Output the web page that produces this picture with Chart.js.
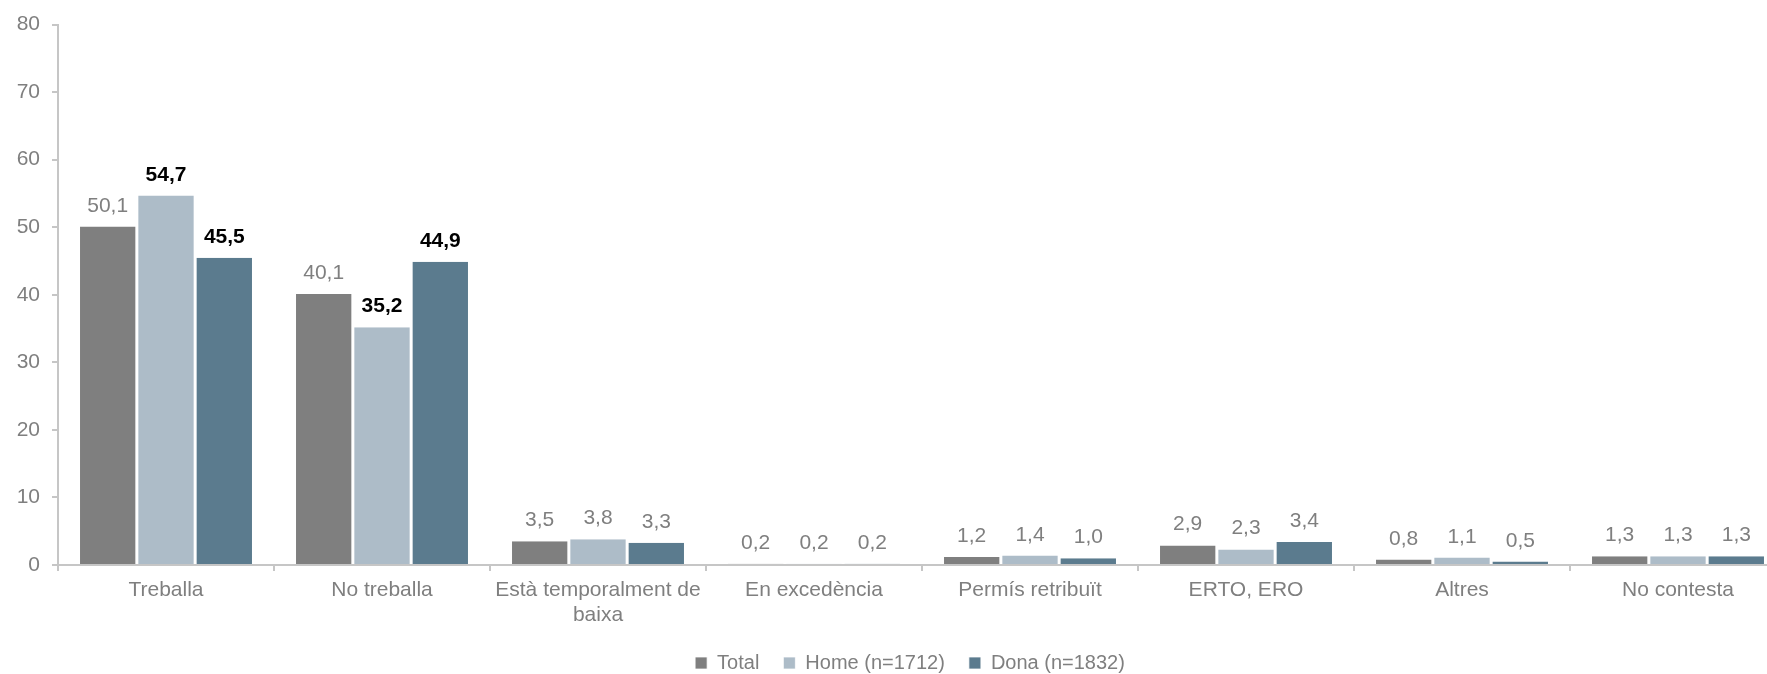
<!DOCTYPE html>
<html>
<head>
<meta charset="utf-8">
<script src="https://cdn.jsdelivr.net/npm/chart.js@4"></script>
<style>
    html, body { margin: 0; padding: 0; background: #fff; overflow: hidden; }
    #wrap { width: 1786px; height: 683px; }
</style>
</head>
<body>
<div id="wrap"><canvas id="situacioGraph" width="1786" height="683"></canvas></div>
<script>
// Chart data
const categories = [
    'Treballa',
    'No treballa',
    ['Està temporalment de', 'baixa'],
    'En excedència',
    'Permís retribuït',
    'ERTO, ERO',
    'Altres',
    'No contesta'
];
const totalValues = [50.1, 40.1, 3.5, 0.2, 1.2, 2.9, 0.8, 1.3];
const homeValues = [54.7, 35.2, 3.8, 0.2, 1.4, 2.3, 1.1, 1.3];
const donaValues = [45.5, 44.9, 3.3, 0.2, 1.0, 3.4, 0.5, 1.3];
const seriesNames = ['Total', 'Home (n=1712)', 'Dona (n=1832)'];
const yTicks = [0, 10, 20, 30, 40, 50, 60, 70, 80];

const FONT = 'Liberation Sans, Arial, sans-serif';
const GREY_TEXT = '#7f7f7f';
const AXIS = '#c6c6c6';

// Draw the value above each bar (Home/Dona bold for the first two groups)
const valueLabels = {
    id: 'valueLabels',
    afterDatasetsDraw(chart) {
        const ctx = chart.ctx;
        ctx.save();
        ctx.textAlign = 'center';
        ctx.textBaseline = 'alphabetic';
        chart.data.datasets.forEach((ds, di) => {
            const meta = chart.getDatasetMeta(di);
            meta.data.forEach((bar, i) => {
                const strong = di > 0 && i < 2;
                ctx.font = (strong ? 'bold ' : '') + '21px ' + FONT;
                ctx.fillStyle = strong ? '#000' : GREY_TEXT;
                const txt = ds.data[i].toFixed(1).replace('.', ',');
                ctx.fillText(txt, bar.x, bar.y - 15);
            });
        });
        ctx.restore();
    }
};

// Nudge the legend a bit to the right, like the original
const legendShift = {
    id: 'legendShift',
    afterLayout(chart) {
        chart.legend.left += 17;
        chart.legend.right += 17;
    }
};

function renderGraph() {
    const ctx = document.getElementById('situacioGraph').getContext('2d');
    const colors = ['#7f7f7f', '#adbcc8', '#5b7b8e'];
    const values = [totalValues, homeValues, donaValues];

    new Chart(ctx, {
        type: 'bar',
        data: {
            labels: categories,
            datasets: values.map((v, i) => ({
                label: seriesNames[i],
                data: v,
                backgroundColor: colors[i],
                borderColor: '#fff',
                borderWidth: { left: 1.5, right: 1.5, top: 0, bottom: 0 },
                borderSkipped: false,
                barPercentage: 1,
                categoryPercentage: 0.81
            }))
        },
        options: {
            responsive: false,
            animation: false,
            layout: { padding: { top: 23, left: 0, right: 0, bottom: 0 } },
            scales: {
                x: {
                    grid: {
                        display: true,
                        drawOnChartArea: false,
                        drawTicks: true,
                        tickLength: 6,
                        color: AXIS,
                        lineWidth: 2,
                        offset: true
                    },
                    border: { color: AXIS, width: 2 },
                    ticks: {
                        color: GREY_TEXT,
                        font: { family: FONT, size: 21, lineHeight: 1.19 },
                        padding: 7,
                        maxRotation: 0,
                        autoSkip: false
                    },
                    afterFit(scale) { scale.height = 64; }
                },
                y: {
                    min: 0,
                    max: 80,
                    afterBuildTicks(scale) {
                        scale.ticks = yTicks.map(v => ({ value: v }));
                    },
                    grid: {
                        display: true,
                        drawOnChartArea: false,
                        drawTicks: true,
                        tickLength: 6,
                        color: AXIS,
                        lineWidth: 2
                    },
                    border: { color: AXIS, width: 2 },
                    ticks: {
                        color: GREY_TEXT,
                        font: { family: FONT, size: 21 },
                        padding: 12
                    },
                    afterFit(scale) { scale.width = 58; }
                }
            },
            plugins: {
                legend: {
                    position: 'bottom',
                    labels: {
                        color: GREY_TEXT,
                        font: { family: FONT, size: 20 },
                        boxWidth: 12,
                        boxHeight: 12,
                        padding: 24
                    }
                },
                tooltip: { enabled: false }
            }
        },
        plugins: [valueLabels, legendShift]
    });
}

document.addEventListener('DOMContentLoaded', renderGraph);
</script>
</body>
</html>
